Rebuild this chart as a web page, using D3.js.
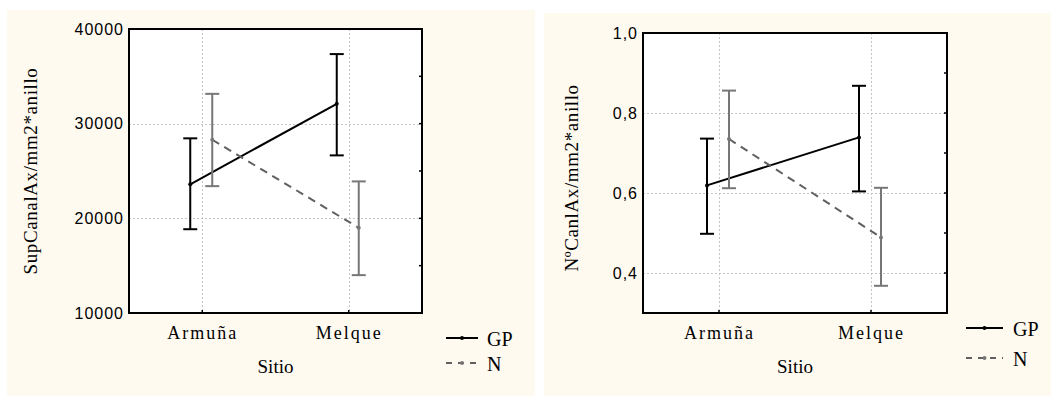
<!DOCTYPE html>
<html><head><meta charset="utf-8">
<script src="https://cdn.jsdelivr.net/npm/d3@7"></script>
<style>
body{margin:0;background:#fff;}
svg{display:block;}
</style></head>
<body>
<svg id="c" width="1051" height="398"></svg>
<script>
const categories = ["Armuña", "Melque"];
const seriesNames = ["GP", "N"];
const xTitle = "Sitio";

// Left chart: SupCanalAx/mm2*anillo
const leftTitle = "SupCanalAx/mm2*anillo";
const leftTicks = [10000, 20000, 30000, 40000];
const leftTickLabels = ["10000", "20000", "30000", "40000"];
const leftGPMean = [23600, 32100];
const leftGPLow = [18850, 26650];
const leftGPHigh = [28450, 37350];
const leftNMean = [28300, 19000];
const leftNLow = [23400, 14000];
const leftNHigh = [33150, 23900];

// Right chart: NºCanlAx/mm2*anillo
const rightTitle = "NºCanlAx/mm2*anillo";
const rightTicks = [0.4, 0.6, 0.8, 1.0];
const rightTickLabels = ["0,4", "0,6", "0,8", "1,0"];
const rightGPMean = [0.619, 0.739];
const rightGPLow = [0.498, 0.604];
const rightGPHigh = [0.736, 0.868];
const rightNMean = [0.735, 0.489];
const rightNLow = [0.612, 0.368];
const rightNHigh = [0.856, 0.613];

const svg = d3.select("#c");
const serif = "'Liberation Serif','Times New Roman',serif";
const sans = "'Liberation Sans',Arial,sans-serif";

function panel(o) {
  const g = svg.append("g");
  g.append("rect").attr("x", o.bg[0]).attr("y", o.bg[1]).attr("width", o.bg[2]).attr("height", o.bg[3]).attr("fill", "#fffaf0");
  const x = d3.scalePoint().domain(categories).range([o.box[0], o.box[2]]).padding(0.5);
  const y = d3.scaleLinear().domain(o.domain).range([o.box[3], o.box[1]]);
  g.append("rect").attr("x", o.box[0]).attr("y", o.box[1]).attr("width", o.box[2]-o.box[0]).attr("height", o.box[3]-o.box[1]).attr("fill", "#fff");
  // grid
  const grid = g.append("g").attr("stroke", "#c4c4c4").attr("stroke-width", 1).attr("stroke-dasharray", "2,2");
  o.ticks.forEach(t => { if (t > o.domain[0] && t < o.domain[1]) grid.append("line").attr("x1", o.box[0]).attr("x2", o.box[2]).attr("y1", Math.round(y(t))+0.5).attr("y2", Math.round(y(t))+0.5); });
  categories.forEach(c => grid.append("line").attr("x1", Math.round(x(c))+0.5).attr("x2", Math.round(x(c))+0.5).attr("y1", o.box[1]).attr("y2", o.box[3]));
  // right minor ticks
  o.rticks.forEach(t => g.append("line").attr("x1", o.box[2]-3).attr("x2", o.box[2]).attr("y1", y(t)).attr("y2", y(t)).attr("stroke", "#000").attr("stroke-width", 1.5));
  // bottom ticks
  categories.forEach(c => g.append("line").attr("x1", x(c)).attr("x2", x(c)).attr("y1", o.box[3]-3).attr("y2", o.box[3]).attr("stroke", "#000").attr("stroke-width", 1.5));
  // left axis
  const ya = d3.axisLeft(y).tickValues(o.ticks).tickFormat((d, i) => o.tickLabels[i]).tickSize(0).tickPadding(5);
  const ay = g.append("g").attr("transform", `translate(${o.box[0]},0)`).call(ya);
  ay.select(".domain").remove();
  ay.selectAll("text").attr("font-family", sans).attr("font-size", 16).attr("letter-spacing", "1px").attr("fill", "#000");
  // x labels
  const xa = d3.axisBottom(x).tickSize(0).tickPadding(13);
  const ax = g.append("g").attr("transform", `translate(0,${o.box[3]})`).call(xa);
  ax.select(".domain").remove();
  ax.selectAll("text").attr("font-family", serif).attr("font-size", 18).attr("letter-spacing", "2px").attr("fill", "#000").attr("dy", "0.7em");
  // titles
  g.append("text").attr("x", (o.box[0]+o.box[2])/2).attr("y", 373).attr("text-anchor", "middle").attr("font-family", serif).attr("font-size", 19).text(xTitle);
  g.append("text").attr("transform", `translate(${o.ytx},${o.yty}) rotate(-90)`).attr("text-anchor", "middle").attr("font-family", serif).attr("font-size", 19).attr("letter-spacing", "0.6px").text(o.title);
  // series
  const series = [
    {name: "GP", mean: o.gp[0], lo: o.gp[1], hi: o.gp[2], off: -12, color: "#000", lc: "#000", dash: null},
    {name: "N", mean: o.n[0], lo: o.n[1], hi: o.n[2], off: 10, color: "#777", lc: "#606060", dash: "8,6"}
  ];
  series.forEach(s => {
    const px = i => x(categories[i]) + s.off;
    const eb = g.append("g").attr("stroke", s.color).attr("stroke-width", 2).attr("fill", "none");
    categories.forEach((c, i) => {
      eb.append("line").attr("x1", px(i)).attr("x2", px(i)).attr("y1", y(s.lo[i])).attr("y2", y(s.hi[i]));
      eb.append("line").attr("x1", px(i)-7).attr("x2", px(i)+7).attr("y1", y(s.lo[i])).attr("y2", y(s.lo[i]));
      eb.append("line").attr("x1", px(i)-7).attr("x2", px(i)+7).attr("y1", y(s.hi[i])).attr("y2", y(s.hi[i]));
    });
    const line = d3.line().x((d, i) => px(i)).y(d => y(d));
    g.append("path").attr("d", line(s.mean)).attr("fill", "none").attr("stroke", s.lc).attr("stroke-width", 2).attr("stroke-dasharray", s.dash);
    s.mean.forEach((m, i) => g.append("circle").attr("cx", px(i)).attr("cy", y(m)).attr("r", 2).attr("fill", s.color));
  });
  // frame
  g.append("rect").attr("x", o.box[0]).attr("y", o.box[1]).attr("width", o.box[2]-o.box[0]).attr("height", o.box[3]-o.box[1]).attr("fill", "none").attr("stroke", "#000").attr("stroke-width", 2);
  // legend
  const lg = o.legend;
  series.forEach((s, i) => {
    const ly = lg[1] + i*lg[4];
    g.append("line").attr("x1", lg[0]).attr("x2", lg[2]).attr("y1", ly).attr("y2", ly).attr("stroke", s.lc).attr("stroke-width", 2).attr("stroke-dasharray", s.dash ? "6,6" : null);
    g.append("circle").attr("cx", (lg[0]+lg[2])/2).attr("cy", ly).attr("r", 2).attr("fill", s.color);
    g.append("text").attr("x", lg[3]).attr("y", ly+8).attr("font-family", serif).attr("font-size", 20).text(seriesNames[i]);
  });
}

panel({
  bg: [7, 10, 528, 386], box: [129, 29, 422, 313], domain: [10000, 40000],
  ticks: leftTicks, tickLabels: leftTickLabels, rticks: [15000, 20000, 25000, 30000, 35000],
  title: leftTitle, ytx: 37, yty: 171,
  gp: [leftGPMean, leftGPLow, leftGPHigh], n: [leftNMean, leftNLow, leftNHigh],
  legend: [446, 338, 478, 487, 25]
});
panel({
  bg: [544, 13, 507, 383], box: [643, 33, 947, 313], domain: [0.3, 1.0],
  ticks: rightTicks, tickLabels: rightTickLabels, rticks: [0.4, 0.5, 0.6, 0.7, 0.8, 0.9],
  title: rightTitle, ytx: 578, yty: 178,
  gp: [rightGPMean, rightGPLow, rightGPHigh], n: [rightNMean, rightNLow, rightNHigh],
  legend: [966, 328, 1003, 1013, 30]
});
</script>
</body></html>
